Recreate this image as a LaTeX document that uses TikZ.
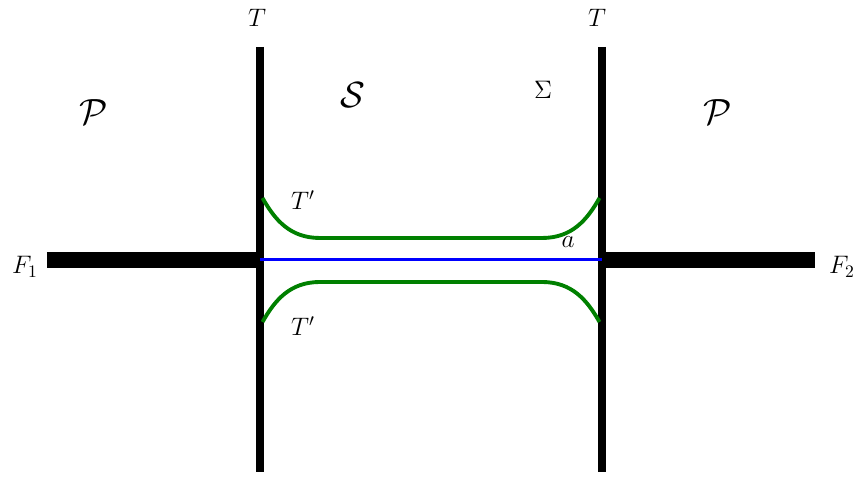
\documentclass[tikz,border=0pt]{standalone}
\usepackage{amsmath,amssymb}
\usetikzlibrary{positioning,calc}
\usepackage{xcolor}
\definecolor{dgreen}{RGB}{0,128,0}

\begin{document}
\begin{tikzpicture}[wall/.style={line width=4.5pt},
  bar/.style={line width=9.5pt},
  tube/.style={dgreen,line width=2.2pt},
  lbl/.style={font=\huge},
  sm/.style={font=\Large}]
\useasboundingbox (-5.2,-4.34) rectangle (11.92,5.2);
\coordinate (Ltop) at (0,4.26);
\coordinate (Lbot) at (0,-4.24);
\coordinate (Rtop) at (6.84,4.26);
\coordinate (Rbot) at (6.84,-4.24);
\coordinate (Lmid) at (0,0);
\coordinate (Rmid) at (6.84,0);
\node[sm] (F1) at (-4.7,-0.14) {$F_1$};
\node[sm] (F2) at (11.64,-0.14) {$F_2$};
\coordinate (F1end) at (-4.26,0);
\coordinate (F2end) at (11.1,0);
\node[sm] (TL) at (-0.06,4.84) {$T$};
\node[sm] (TR) at (6.74,4.84) {$T$};
\node[lbl] (PL) at (-3.32,2.96) {$\mathcal{P}$};
\node[lbl] (PR) at (9.16,2.96) {$\mathcal{P}$};
\node[lbl] (S) at (1.86,3.3) {$\mathcal{S}$};
\node[sm] (Sig) at (5.66,3.4) {$\Sigma$};
\node[sm] (Tp1) at (0.86,1.2) {$T'$};
\node[sm] (Tp2) at (0.86,-1.32) {$T'$};
\node[sm] (a) at (6.16,0.36) {$a$};
% walls and bars
\draw[wall] (Ltop) -- (Lbot);
\draw[wall] (Rtop) -- (Rbot);
\draw[bar] (F1end) -- (Lmid);
\draw[bar] (Rmid) -- (F2end);
\draw[blue,line width=1.7pt] (Lmid) -- (Rmid);
% tubes
\draw[tube] (0.05,1.24) .. controls (0.3,0.8) and (0.6,0.44) .. (1.2,0.44) -- (5.64,0.44) .. controls (6.24,0.44) and (6.54,0.8) .. (6.79,1.24);
\draw[tube] (0.05,-1.24) .. controls (0.3,-0.8) and (0.6,-0.44) .. (1.2,-0.44) -- (5.64,-0.44) .. controls (6.24,-0.44) and (6.54,-0.8) .. (6.79,-1.24);
\end{tikzpicture}
\end{document}
